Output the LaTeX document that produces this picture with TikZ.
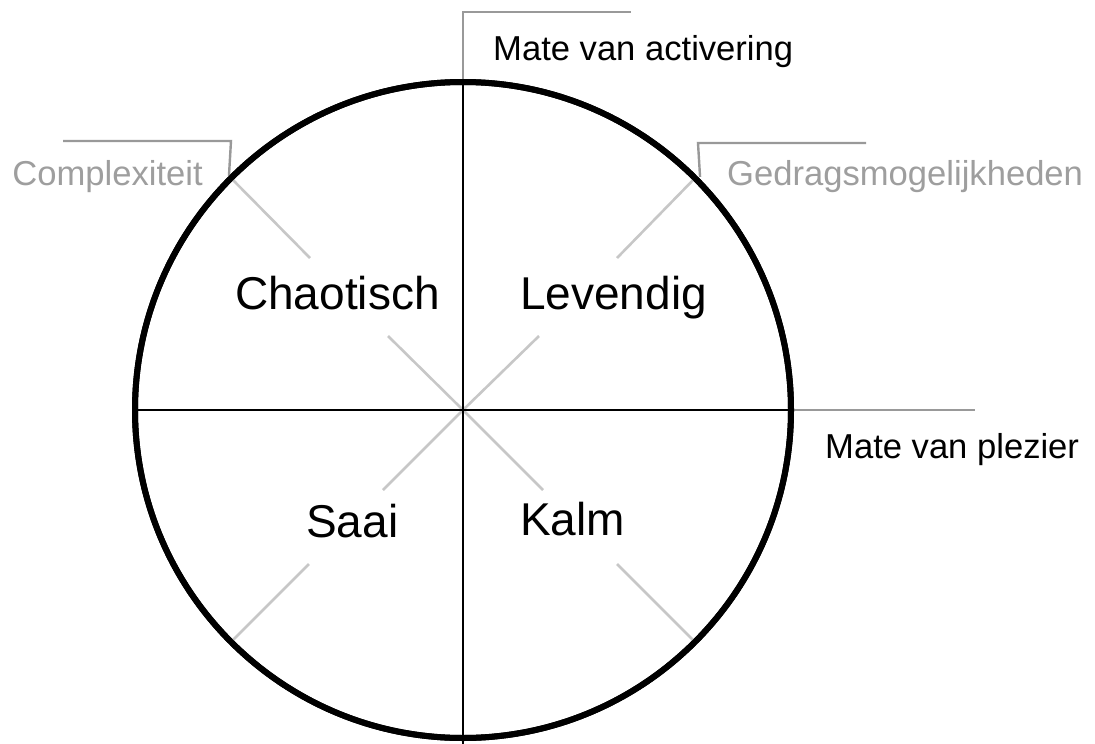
\documentclass[tikz,border=0pt]{standalone}
\usepackage{fontspec}
\setmainfont{Liberation Sans}
\begin{document}
\begin{tikzpicture}[x=1pt,y=-1pt,
  ring/.style={draw=black, line width=6pt, circle, inner sep=0pt, minimum size=656pt},
  axis/.style={draw=black, line width=2.8pt},
  callout/.style={draw=black!40, line width=2.4pt},
  diag/.style={draw=black!22, line width=2.6pt},
  big/.style={inner sep=0pt, font=\fontsize{46}{50}\selectfont},
  lab/.style={inner sep=0pt, font=\fontsize{34.6}{40}\selectfont},
  glab/.style={lab, text=black!38}]
\useasboundingbox (0,0) rectangle (1095,744);
% centre and circle
\coordinate (o) at (463,410);
\node[ring] (c) at (o) {};
% gap coordinates for the diagonals
\coordinate (ulo) at (310,258); \coordinate (uli) at (388,336);
\coordinate (uro) at (617,258); \coordinate (uri) at (539,336);
\coordinate (llo) at (309,564); \coordinate (lli) at (383,490);
\coordinate (lro) at (617,564); \coordinate (lri) at (543,490);
% diagonals
\draw[diag] (c.135) -- (ulo); \draw[diag] (uli) -- (o);
\draw[diag] (c.45) -- (uro);  \draw[diag] (uri) -- (o);
\draw[diag] (c.225) -- (llo); \draw[diag] (lli) -- (o);
\draw[diag] (c.315) -- (lro); \draw[diag] (lri) -- (o);
% callouts
\coordinate (tb) at (463,744);
\coordinate (t1) at (463,12); \coordinate (t2) at (631,12);
\coordinate (k1) at (231,141); \coordinate (k2) at (63,141);
\coordinate (g1) at (698,143); \coordinate (g2) at (866,143);
\coordinate (p2) at (975,410);
\draw[callout] (c.north) -- (t1) -- (t2);
\draw[callout] (c.135) -- (k1) -- (k2);
\draw[callout] (c.45) ++(3,1) -- (g1) -- (g2);
\draw[callout] (c.east) -- (p2);
% axes
\draw[axis] (c.north) -- (tb);
\draw[axis] (c.west) -- (c.east);
% circle on top
\node[ring] at (o) {};
% quadrant labels
\node[big, anchor=base west] (chaos) at (235,309) {Chaotisch};
\node[big, anchor=base west] (lev) at (520,309) {Levendig};
\node[big, anchor=base west] (saai) at (306,537) {Saai};
\node[big, anchor=base west] (kalm) at (520,535) {Kalm};
% axis labels
\node[lab, anchor=base west] (act) at (493,60) {Mate van activering};
\node[lab, anchor=base west] (plz) at (825,458) {Mate van plezier};
\node[glab, anchor=base east] (cpx) at (203,185) {Complexiteit};
\node[glab, anchor=base west] (ged) at (727,185) {Gedragsmogelijkheden};
\end{tikzpicture}
\end{document}
